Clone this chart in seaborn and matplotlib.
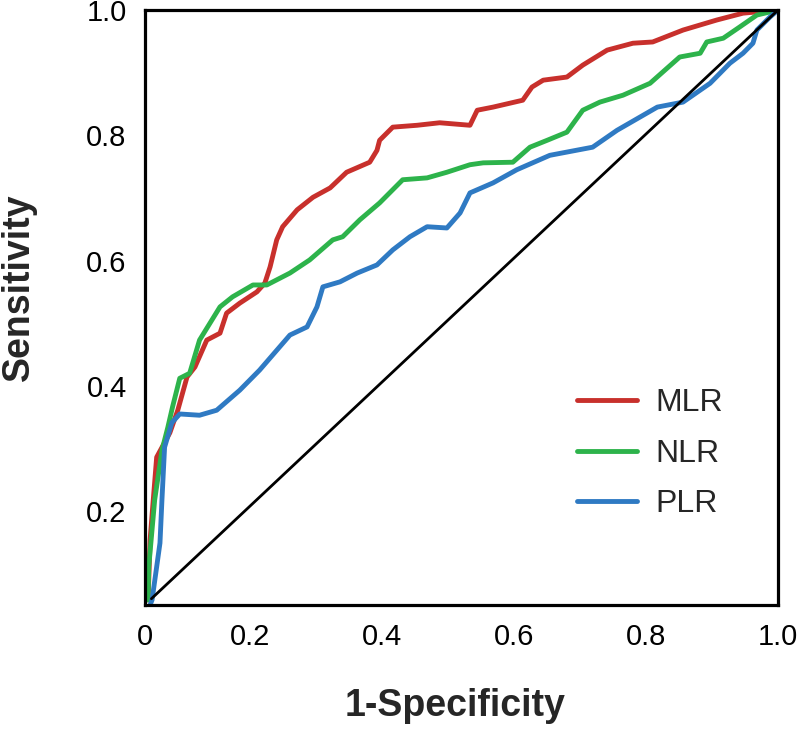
import pandas as pd
import matplotlib
matplotlib.use('Agg')
from matplotlib import pyplot as plt
import seaborn as sns

# ROC curves
mlr_x = [0.045, 0.048, 0.058, 0.078, 0.090, 0.104, 0.116, 0.134, 0.154, 0.164, 0.184, 0.210, 0.222,
         0.230, 0.240, 0.249, 0.271, 0.295, 0.321, 0.346, 0.381, 0.392, 0.396, 0.416, 0.453, 0.487,
         0.533, 0.544, 0.568, 0.613, 0.627, 0.644, 0.680, 0.704, 0.741, 0.780, 0.810, 0.856, 0.907,
         0.947, 1.0]
mlr_y = [0.058, 0.154, 0.286, 0.325, 0.361, 0.414, 0.430, 0.473, 0.484, 0.516, 0.532, 0.550, 0.564,
         0.590, 0.633, 0.654, 0.681, 0.701, 0.716, 0.741, 0.757, 0.776, 0.792, 0.813, 0.816, 0.820,
         0.816, 0.840, 0.845, 0.856, 0.877, 0.888, 0.893, 0.912, 0.936, 0.947, 0.949, 0.968, 0.984,
         0.995, 1.0]

nlr_x = [0.045, 0.046, 0.055, 0.066, 0.075, 0.082, 0.093, 0.108, 0.123, 0.154, 0.173, 0.204, 0.225,
         0.260, 0.290, 0.325, 0.340, 0.366, 0.396, 0.431, 0.468, 0.498, 0.533, 0.553, 0.598, 0.624,
         0.650, 0.680, 0.704, 0.730, 0.765, 0.806, 0.851, 0.882, 0.892, 0.917, 0.942, 0.968, 1.0]
nlr_y = [0.058, 0.111, 0.218, 0.297, 0.334, 0.366, 0.412, 0.420, 0.473, 0.526, 0.542, 0.561, 0.561,
         0.580, 0.601, 0.633, 0.638, 0.665, 0.692, 0.729, 0.732, 0.741, 0.753, 0.756, 0.757, 0.781,
         0.792, 0.805, 0.840, 0.853, 0.864, 0.883, 0.925, 0.931, 0.949, 0.955, 0.973, 0.992, 1.0]

plr_x = [0.048, 0.051, 0.058, 0.063, 0.066, 0.070, 0.081, 0.093, 0.123, 0.149, 0.184, 0.214, 0.260,
         0.286, 0.301, 0.310, 0.336, 0.362, 0.392, 0.416, 0.442, 0.468, 0.498, 0.518, 0.533, 0.568,
         0.604, 0.654, 0.719, 0.756, 0.817, 0.856, 0.897, 0.927, 0.947, 0.962, 0.968, 0.988, 1.0]
plr_y = [0.050, 0.058, 0.111, 0.149, 0.218, 0.302, 0.341, 0.355, 0.353, 0.361, 0.393, 0.425, 0.481,
         0.494, 0.526, 0.558, 0.566, 0.580, 0.593, 0.617, 0.638, 0.654, 0.652, 0.676, 0.708, 0.724,
         0.745, 0.768, 0.781, 0.808, 0.845, 0.853, 0.883, 0.915, 0.931, 0.947, 0.968, 0.989, 1.0]

diag_x = [0.05, 1.0]
diag_y = [0.06, 1.0]

curve_names = ['MLR', 'NLR', 'PLR']
curve_colors = ['#c8302c', '#2db34b', '#2f7ac3']
x_ticks = [0.04, 0.2, 0.4, 0.6, 0.8, 1.0]
x_ticklabels = ['0', '0.2', '0.4', '0.6', '0.8', '1.0']
y_ticks = [0.2, 0.4, 0.6, 0.8, 1.0]
y_ticklabels = ['0.2', '0.4', '0.6', '0.8', '1.0']

sns.set_style('white')
plt.rcParams['font.family'] = ['Liberation Sans', 'DejaVu Sans']

fig = plt.figure(figsize=(8, 7.32), dpi=100)
ax = fig.add_axes([0.181, 0.1735, 0.7915, 0.8128])

for name, color, xs, ys in zip(curve_names, curve_colors,
                               [mlr_x, nlr_x, plr_x], [mlr_y, nlr_y, plr_y]):
    d = pd.DataFrame({'x': xs, 'y': ys})
    sns.lineplot(data=d, x='x', y='y', ax=ax, color=color, lw=3.5, label=name,
                 sort=False, estimator=None)

sns.lineplot(x=diag_x, y=diag_y, ax=ax, color='black', lw=2.0, sort=False, estimator=None)

ax.set_xlim(0.04, 1.0)
ax.set_ylim(0.05, 1.0)
ax.set_xticks(x_ticks)
ax.set_xticklabels(x_ticklabels)
ax.set_yticks(y_ticks)
ax.set_yticklabels(y_ticklabels)
ax.tick_params(length=0, labelsize=21, pad=13, colors='black')

for s in ax.spines.values():
    s.set_color('black')
    s.set_linewidth(2.3)

ax.set_xlabel('1-Specificity', fontsize=27, fontweight='bold')
ax.set_ylabel('Sensitivity', fontsize=27, fontweight='bold')
ax.xaxis.set_label_coords(0.49, -0.14)
ax.yaxis.set_label_coords(-0.171, 0.534)

leg = ax.legend(loc='center left', bbox_to_anchor=(0.682, 0.254), frameon=False,
                fontsize=23, handlelength=1.9, handletextpad=0.55, labelspacing=0.64,
                borderpad=0, borderaxespad=0)
for line in leg.get_lines():
    line.set_linewidth(3.5)

fig.savefig('out.png', dpi=100)
